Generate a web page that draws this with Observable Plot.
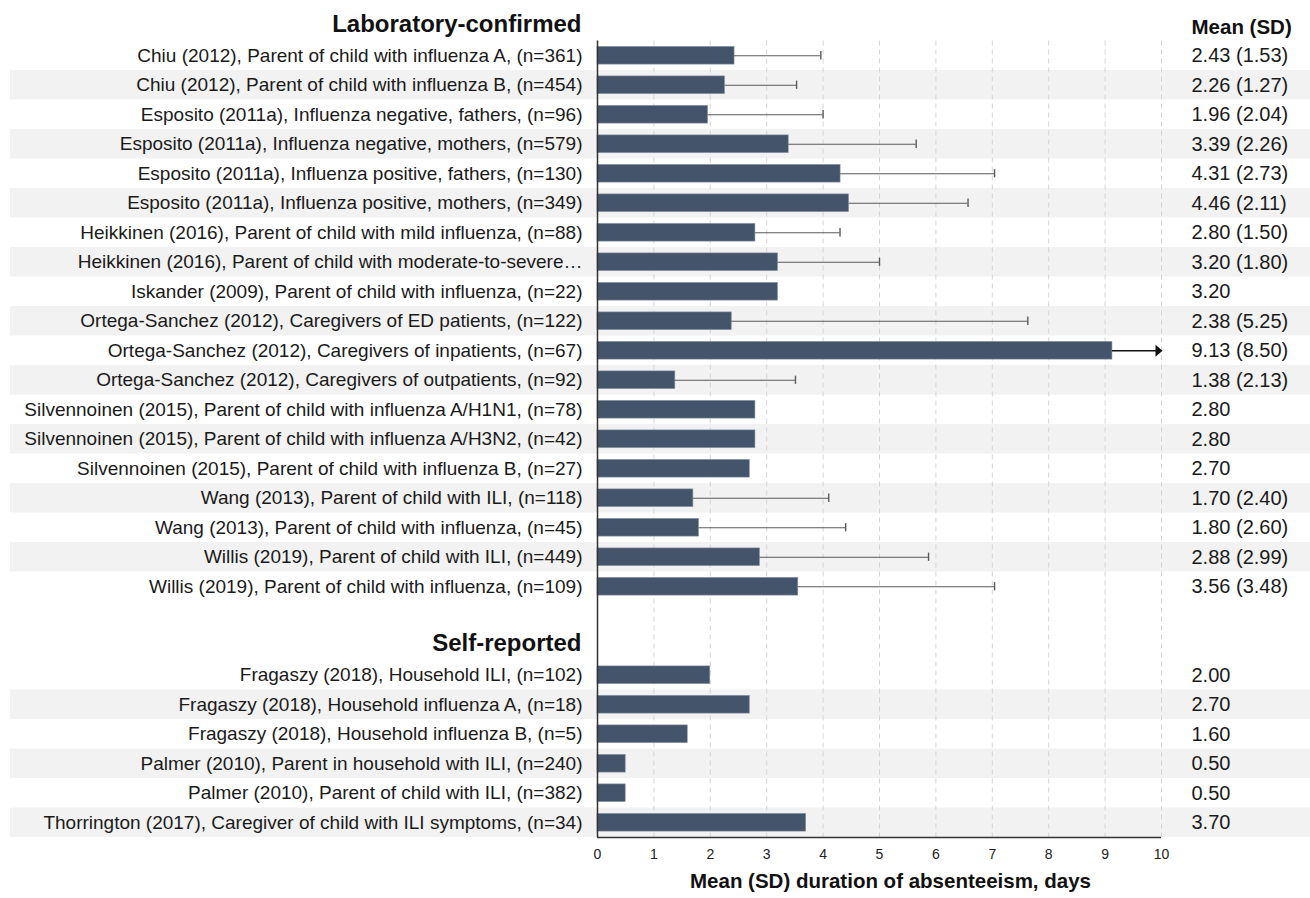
<!DOCTYPE html>
<html>
<head>
<meta charset="utf-8">
<script src="https://cdn.jsdelivr.net/npm/d3@7"></script>
<script src="https://cdn.jsdelivr.net/npm/@observablehq/plot@0.6"></script>
<style>
  html, body { margin: 0; padding: 0; background: #fff; }
  body { font-family: "Liberation Sans", Arial, sans-serif; }
</style>
</head>
<body>
<div id="chart"></div>
<script>
const sectionHeaders = ["Laboratory-confirmed", "Self-reported"];
const columnHeader = "Mean (SD)";
const axisTitle = "Mean (SD) duration of absenteeism, days";
const xTicks = [0, 1, 2, 3, 4, 5, 6, 7, 8, 9, 10];

const labLabels = [
  "Chiu (2012), Parent of child with influenza A, (n=361)",
  "Chiu (2012), Parent of child with influenza B, (n=454)",
  "Esposito (2011a), Influenza negative, fathers, (n=96)",
  "Esposito (2011a), Influenza negative, mothers, (n=579)",
  "Esposito (2011a), Influenza positive, fathers, (n=130)",
  "Esposito (2011a), Influenza positive, mothers, (n=349)",
  "Heikkinen (2016), Parent of child with mild influenza, (n=88)",
  "Heikkinen (2016), Parent of child with moderate-to-severe…",
  "Iskander (2009), Parent of child with influenza, (n=22)",
  "Ortega-Sanchez (2012), Caregivers of ED patients, (n=122)",
  "Ortega-Sanchez (2012), Caregivers of inpatients, (n=67)",
  "Ortega-Sanchez (2012), Caregivers of outpatients, (n=92)",
  "Silvennoinen (2015), Parent of child with influenza A/H1N1, (n=78)",
  "Silvennoinen (2015), Parent of child with influenza A/H3N2, (n=42)",
  "Silvennoinen (2015), Parent of child with influenza B, (n=27)",
  "Wang (2013), Parent of child with ILI, (n=118)",
  "Wang (2013), Parent of child with influenza, (n=45)",
  "Willis (2019), Parent of child with ILI, (n=449)",
  "Willis (2019), Parent of child with influenza, (n=109)"
];
const labMeans = [2.43, 2.26, 1.96, 3.39, 4.31, 4.46, 2.80, 3.20, 3.20, 2.38, 9.13, 1.38, 2.80, 2.80, 2.70, 1.70, 1.80, 2.88, 3.56];
const labSDs   = [1.53, 1.27, 2.04, 2.26, 2.73, 2.11, 1.50, 1.80, null, 5.25, 8.50, 2.13, null, null, null, 2.40, 2.60, 2.99, 3.48];

const selfLabels = [
  "Fragaszy (2018), Household ILI, (n=102)",
  "Fragaszy (2018), Household influenza A, (n=18)",
  "Fragaszy (2018), Household influenza B, (n=5)",
  "Palmer (2010), Parent in household with ILI, (n=240)",
  "Palmer (2010), Parent of child with ILI, (n=382)",
  "Thorrington (2017), Caregiver of child with ILI symptoms, (n=34)"
];
const selfMeans = [2.00, 2.70, 1.60, 0.50, 0.50, 3.70];
const selfSDs   = [null, null, null, null, null, null];

// Build rows (row index = vertical order, section headers take their own rows)
const xMax = 10;
const rows = [];
labLabels.forEach((label, i) => rows.push({label, mean: labMeans[i], sd: labSDs[i], row: i, stripe: i % 2 === 1}));
const selfStart = labLabels.length + 2; // blank row + header row
selfLabels.forEach((label, i) => rows.push({label, mean: selfMeans[i], sd: selfSDs[i], row: selfStart + i, stripe: i % 2 === 1}));
const headerRows = [{text: sectionHeaders[0], row: -1}, {text: sectionHeaders[1], row: selfStart - 1}];
const lastRow = rows[rows.length - 1].row;

const fmt = d => d.sd != null ? `${d.mean.toFixed(2)} (${d.sd.toFixed(2)})` : d.mean.toFixed(2);
const withSD = rows.filter(d => d.sd != null);
const capped = withSD.filter(d => d.mean + d.sd <= xMax);
const clipped = withSD.filter(d => d.mean + d.sd > xMax);

const arrowSymbol = {
  draw(ctx) {
    ctx.moveTo(0, 0);
    ctx.lineTo(-7, -6);
    ctx.lineTo(-7, 6);
    ctx.closePath();
  }
};

const font = "'Liberation Sans', Arial, sans-serif";

const plot = Plot.plot({
  width: 1310,
  height: 898,
  marginLeft: 597,
  marginRight: 149,
  marginTop: 11,
  marginBottom: 61,
  style: {fontFamily: font, fontSize: "14px", color: "#222", background: "#fff"},
  x: {domain: [0, xMax], axis: null},
  y: {domain: [-1.5, lastRow + 0.5], reverse: true, axis: null},
  marks: [
    // alternating stripes
    Plot.rect(rows.filter(d => d.stripe), {
      y1: d => d.row - 0.5, y2: d => d.row + 0.5,
      fill: "#f2f2f2", insetLeft: -587, insetRight: -149
    }),
    // dashed grid
    Plot.ruleX(xTicks.filter(t => t > 0), {
      x: d => d, y1: -0.5, y2: lastRow + 0.5,
      stroke: "#d4d4d4", strokeWidth: 1, strokeDasharray: "5,4"
    }),
    // bars
    Plot.rect(rows, {
      x1: 0, x2: "mean",
      y1: d => d.row - 0.3, y2: d => d.row + 0.3,
      fill: "#44546a", stroke: "#8591a3", strokeWidth: 0.6
    }),
    // error bars
    Plot.ruleY(capped, {
      y: "row", x1: "mean", x2: d => d.mean + d.sd,
      stroke: "#5a5a5a", strokeWidth: 1.1
    }),
    Plot.ruleX(capped, {
      x: d => d.mean + d.sd, y1: d => d.row - 0.14, y2: d => d.row + 0.14,
      stroke: "#5a5a5a", strokeWidth: 1.4
    }),
    Plot.ruleY(clipped, {
      y: "row", x1: "mean", x2: xMax,
      stroke: "#111", strokeWidth: 1.4
    }),
    Plot.dot(clipped, {
      x: xMax, y: "row", symbol: arrowSymbol, fill: "#111", stroke: null, dx: 1
    }),
    // axes lines
    Plot.ruleX([0], {y1: -0.5, y2: lastRow + 0.5, stroke: "#333", strokeWidth: 1.5}),
    Plot.ruleY([lastRow + 0.5], {stroke: "#333", strokeWidth: 1.5}),
    // x tick labels
    Plot.text(xTicks, {
      x: d => d, frameAnchor: "bottom", lineAnchor: "top", dy: 12,
      fontSize: 14, fill: "#222"
    }),
    // row labels
    Plot.text(rows, {
      x: 0, y: "row", text: "label", textAnchor: "end", dx: -15,
      fontSize: 19, fill: "#1a1a1a"
    }),
    // section headers
    Plot.text(headerRows, {
      x: 0, y: "row", text: "text", textAnchor: "end", dx: -16, dy: -2,
      fontSize: 24, fontWeight: "bold", fill: "#111"
    }),
    // mean (SD) column
    Plot.text(rows, {
      x: xMax, y: "row", text: fmt, textAnchor: "start", dx: 30,
      fontSize: 20, fill: "#1a1a1a"
    }),
    Plot.text([columnHeader], {
      x: xMax, y: -1, text: d => d, textAnchor: "start", dx: 30, dy: 1.5,
      fontSize: 20.5, fontWeight: "bold", fill: "#111"
    }),
    // axis title
    Plot.text([axisTitle], {
      frameAnchor: "bottom", text: d => d, dy: 50, dx: 11,
      fontSize: 20.5, fontWeight: "bold", fill: "#111"
    })
  ]
});

document.getElementById("chart").appendChild(plot);
</script>
</body>
</html>
